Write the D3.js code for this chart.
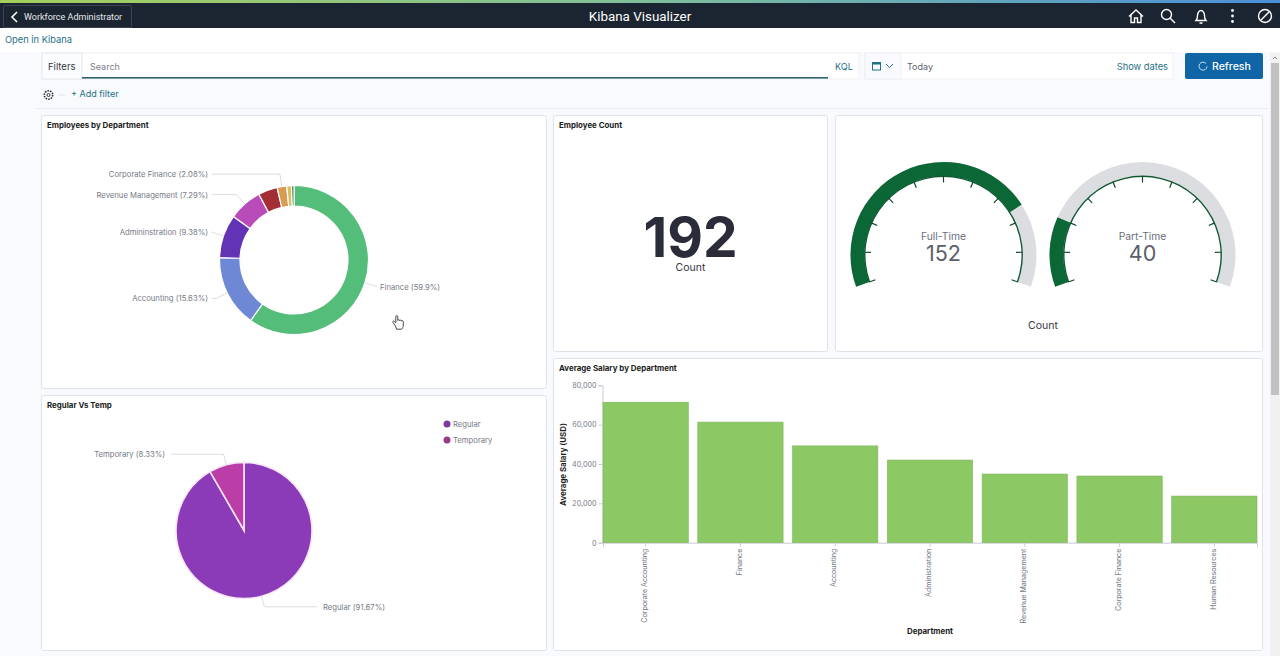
<!DOCTYPE html>
<html>
<head>
<meta charset="utf-8">
<title>Kibana Visualizer</title>
<script src="https://cdn.jsdelivr.net/npm/d3@7"></script>
<style>
  html, body { margin: 0; padding: 0; background: #fff; overflow: hidden; }
  svg { display: block; }
  text { font-family: Inter, "Liberation Sans", sans-serif; }
  .head { font-family: Roboto, "Liberation Sans", sans-serif; }
  .panelTitle { font-size: 7.9px; font-weight: 700; fill: #1a1c21; }
  .lbl { font-size: 7.7px; fill: #757a85; }
  .leader { fill: none; stroke: #d9dde3; stroke-width: 1; }
  .axis path, .axis line { stroke: #c8ccd2; }
  .axis text { font-family: Inter, sans-serif; fill: #757a85; }
</style>
</head>
<body>
<script>
// data
const deptNames = ["Finance", "Accounting", "Admininstration", "Revenue Management", "Corporate Accounting", "Corporate Finance", "Human Resources", "Other"];
const deptCounts = [115, 30, 18, 14, 8, 4, 2, 1];
const deptColors = ["#54bd7a", "#6f88d6", "#6233b5", "#b94bbb", "#a32f35", "#d89b52", "#d9bf5c", "#2f6b4a"];
const deptLabelled = ["Finance", "Accounting", "Admininstration", "Revenue Management", "Corporate Finance"];

const typeNames = ["Regular", "Temporary"];
const typeCounts = [176, 16];
const typeColors = ["#8b3ab8", "#bb3da8"];
const legendColors = ["#7b3a9f", "#9a3c85"];

const gaugeNames = ["Full-Time", "Part-Time"];
const gaugeValues = [152, 40];
const gaugeTicks = [0, 20, 40, 60, 80, 100, 120, 140, 160, 180, 200];

const salaryDepts = ["Corporate Accounting", "Finance", "Accounting", "Administration", "Revenue Management", "Corporate Finance", "Human Resources"];
const salaryValues = [71400, 61300, 49200, 42000, 34900, 33900, 23700];
const salaryTicks = [0, 20000, 40000, 60000, 80000];

const svg = d3.select("body").append("svg").attr("width", 1280).attr("height", 656);

// page chrome
const defs = svg.append("defs");
const grad = defs.append("linearGradient").attr("id", "topStrip");
grad.append("stop").attr("offset", "0%").attr("stop-color", "#a6cf5a");
grad.append("stop").attr("offset", "50%").attr("stop-color", "#7fbf9a");
grad.append("stop").attr("offset", "100%").attr("stop-color", "#4a90d9");

svg.append("rect").attr("width", 1280).attr("height", 656).attr("fill", "#f8fafd");
svg.append("rect").attr("width", 1280).attr("height", 52).attr("fill", "#fff");
svg.append("rect").attr("width", 1280).attr("height", 28).attr("fill", "#1b2431");
svg.append("rect").attr("width", 1280).attr("height", 3).attr("fill", "url(#topStrip)");

svg.append("rect").attr("x", 3.5).attr("y", 5.5).attr("width", 128).attr("height", 22)
  .attr("fill", "none").attr("stroke", "#3a4454").attr("rx", 1);
svg.append("path").attr("d", "M17 12l-5 5l5 5").attr("fill", "none").attr("stroke", "#fff").attr("stroke-width", 1.6);
svg.append("text").attr("class", "head").attr("x", 24).attr("y", 20).attr("font-size", 9).attr("fill", "#e6e8ec")
  .text("Workforce Administrator");
svg.append("text").attr("class", "head").attr("x", 640).attr("y", 20.5).attr("text-anchor", "middle")
  .attr("font-size", 13.4).attr("fill", "#fff").text("Kibana Visualizer");

// header icons
const icons = svg.append("g").attr("fill", "none").attr("stroke", "#fff").attr("stroke-width", 1.4);
icons.append("path").attr("d", "M1129 16.5l7-6.5l7 6.5M1131 15v7.5h3.5v-4.5h3v4.5h3.5v-7.5");
icons.append("circle").attr("cx", 1166.5).attr("cy", 14.5).attr("r", 5);
icons.append("path").attr("d", "M1170 18l5 5");
icons.append("path").attr("d", "M1196 20.5c1.5-1.5 1.5-3 1.5-5c0-2.5 1.5-5 3.5-5s3.5 2.5 3.5 5c0 2 0 3.5 1.5 5zM1199.5 23h3");
[10.5, 16, 21.5].forEach(y => svg.append("circle").attr("cx", 1232.5).attr("cy", y).attr("r", 1.4).attr("fill", "#fff"));
icons.append("circle").attr("cx", 1265).attr("cy", 16).attr("r", 6.5);
icons.append("path").attr("d", "M1261 20l8-8");

svg.append("text").attr("x", 5).attr("y", 43).attr("font-size", 9.3).attr("fill", "#1f7186").text("Open in Kibana");

// filter bar
svg.append("rect").attr("x", 42).attr("y", 53).attr("width", 817).attr("height", 26).attr("fill", "#fff").attr("stroke", "#eef0f4");
svg.append("rect").attr("x", 42).attr("y", 53).attr("width", 40).attr("height", 26).attr("fill", "#fbfcfd").attr("stroke", "#e6e9ef");
svg.append("rect").attr("x", 82).attr("y", 77).attr("width", 746).attr("height", 1.6).attr("fill", "#2d6170");
svg.append("text").attr("x", 48).attr("y", 70).attr("font-size", 9.5).attr("fill", "#343741").text("Filters");
svg.append("text").attr("x", 90).attr("y", 69.5).attr("font-size", 9).attr("fill", "#7b8089").text("Search");
svg.append("text").attr("x", 835).attr("y", 69.5).attr("font-size", 9).attr("fill", "#1f7186").text("KQL");

svg.append("rect").attr("x", 865).attr("y", 53).attr("width", 308).attr("height", 26).attr("fill", "#fff").attr("stroke", "#eef0f4");
svg.append("rect").attr("x", 865).attr("y", 53).attr("width", 36).attr("height", 26).attr("fill", "#f8fafd").attr("stroke", "#eef0f4");
svg.append("rect").attr("x", 872.5).attr("y", 62.5).attr("width", 8).attr("height", 7.5).attr("fill", "none").attr("stroke", "#1f7186");
svg.append("rect").attr("x", 872.5).attr("y", 62.5).attr("width", 8).attr("height", 2).attr("fill", "#1f7186");
svg.append("path").attr("d", "M886 64l3.5 3.5l3.5-3.5").attr("fill", "none").attr("stroke", "#1f7186");
svg.append("text").attr("x", 907).attr("y", 69.5).attr("font-size", 9).attr("fill", "#5f6670").text("Today");
svg.append("text").attr("x", 1168).attr("y", 69.5).attr("text-anchor", "end").attr("font-size", 9.3).attr("fill", "#1f7186").text("Show dates");

svg.append("rect").attr("x", 1185).attr("y", 53).attr("width", 78).attr("height", 26).attr("rx", 2).attr("fill", "#0f65a6");
svg.append("path").attr("d", "M1206 63.5a4 4 0 1 0 1 3").attr("fill", "none").attr("stroke", "#cfe3f2").attr("stroke-width", 1);
svg.append("text").attr("x", 1212).attr("y", 69.5).attr("font-size", 10.5).attr("font-weight", 500).attr("fill", "#fff").text("Refresh");

svg.append("circle").attr("cx", 48.5).attr("cy", 95).attr("r", 4.2).attr("fill", "none").attr("stroke", "#343741").attr("stroke-width", 1.6).attr("stroke-dasharray", "1.6 1");
svg.append("circle").attr("cx", 48.5).attr("cy", 95).attr("r", 1.5).attr("fill", "none").attr("stroke", "#343741");
svg.append("rect").attr("x", 59).attr("y", 94.5).attr("width", 6).attr("height", 1).attr("fill", "#dfe3ea");
svg.append("text").attr("x", 71).attr("y", 97).attr("font-size", 9).attr("fill", "#1f7186").text("+ Add filter");
svg.append("rect").attr("x", 36).attr("y", 108).attr("width", 1232).attr("height", 1).attr("fill", "#e9ecf1");

// scrollbar
svg.append("rect").attr("x", 1270).attr("y", 53).attr("width", 10).attr("height", 603).attr("fill", "#f1f1f1");
svg.append("rect").attr("x", 1271).attr("y", 63).attr("width", 8).attr("height", 332).attr("fill", "#c1c1c1");
svg.append("path").attr("d", "M1273 59l2-2l2 2").attr("fill", "none").attr("stroke", "#8a8a8a");

// panels
function panel(x, y, w, h, title) {
  svg.append("rect").attr("x", x + 0.5).attr("y", y + 0.5).attr("width", w).attr("height", h).attr("rx", 2)
    .attr("fill", "#fff").attr("stroke", "#dfe3ea");
  if (title) svg.append("text").attr("class", "panelTitle").attr("x", x + 6).attr("y", y + 13).text(title);
}
panel(41, 115, 505, 273, "Employees by Department");
panel(553, 115, 274, 236, "Employee Count");
panel(835, 115, 427, 236);
panel(41, 395, 505, 255, "Regular Vs Temp");
panel(553, 358, 709, 292, "Average Salary by Department");

const pct = (v, total) => +(v / total * 100).toFixed(2);

// leader line and label for a slice
function sliceLabel(g, d, arcOuter, elbowR, lineX, textX, text) {
  const elbow = d3.arc().innerRadius(elbowR).outerRadius(elbowR).centroid(d);
  const start = arcOuter.centroid(d);
  const right = (d.startAngle + d.endAngle) / 2 < Math.PI;
  g.append("polyline").attr("class", "leader")
    .attr("points", [start, elbow, [right ? lineX : -lineX, elbow[1]]].map(p => p.join(",")).join(" "));
  g.append("text").attr("class", "lbl")
    .attr("x", right ? textX : -textX).attr("y", elbow[1] + 3)
    .attr("text-anchor", right ? "start" : "end").text(text);
}

// donut
const donut = svg.append("g").attr("transform", "translate(294,260)");
const pieGen = d3.pie().sort(null);
const donutArc = d3.arc().innerRadius(54).outerRadius(74.5);
const donutEdge = d3.arc().innerRadius(74.5).outerRadius(74.5);
const donutData = pieGen(deptCounts);
const donutTotal = d3.sum(deptCounts);
donut.selectAll("path.slice").data(donutData).enter().append("path").attr("class", "slice")
  .attr("d", donutArc)
  .attr("fill", (d, i) => deptColors[i])
  .attr("stroke", "#fff").attr("stroke-width", 1.2);
donutData.forEach((d, i) => {
  if (!deptLabelled.includes(deptNames[i])) return;
  sliceLabel(donut, d, donutEdge, 87, 82, 86, `${deptNames[i]} (${pct(deptCounts[i], donutTotal)}%)`);
});

// pie
const pieG = svg.append("g").attr("transform", "translate(244,530.5)");
const pieArc = d3.arc().innerRadius(0).outerRadius(68);
const pieEdge = d3.arc().innerRadius(68).outerRadius(68);
const pieData = pieGen(typeCounts);
const typeTotal = d3.sum(typeCounts);
pieG.selectAll("path.slice").data(pieData).enter().append("path").attr("class", "slice")
  .attr("d", pieArc)
  .attr("fill", (d, i) => typeColors[i])
  .attr("stroke", "#f7e6f7").attr("stroke-width", 1.6);
pieData.forEach((d, i) => {
  sliceLabel(pieG, d, pieEdge, 79, 73, 79, `${typeNames[i]} (${pct(typeCounts[i], typeTotal)}%)`);
});

// legend
const legend = svg.append("g").selectAll("g").data(typeNames).enter().append("g")
  .attr("transform", (d, i) => `translate(447,${424 + i * 16})`);
legend.append("circle").attr("r", 3.5).attr("fill", (d, i) => legendColors[i]);
legend.append("text").attr("class", "lbl").attr("x", 6).attr("y", 3).text(d => d);

// metric
svg.append("text").attr("x", 690.5).attr("y", 257).attr("text-anchor", "middle")
  .attr("font-size", 55).attr("font-weight", 700).attr("fill", "#2a2c3a").text(d3.sum(gaugeValues));
svg.append("text").attr("x", 690.5).attr("y", 271).attr("text-anchor", "middle")
  .attr("font-size", 10.5).attr("fill", "#343741").text("Count");

// gauges
const gaugeAngle = d3.scaleLinear().domain([0, 200]).range([-110 * Math.PI / 180, 110 * Math.PI / 180]);
const gaugeX = d3.scalePoint().domain(gaugeNames).range([943.5, 1142.5]);
gaugeNames.forEach((name, i) => {
  const g = svg.append("g").attr("transform", `translate(${gaugeX(name)},255)`);
  const band = d3.arc().innerRadius(79).outerRadius(93);
  g.append("path").attr("fill", "#dcdde0")
    .attr("d", band({ startAngle: gaugeAngle(0), endAngle: gaugeAngle(200) }));
  g.append("path").attr("fill", "#0b6836")
    .attr("d", band({ startAngle: gaugeAngle(0), endAngle: gaugeAngle(gaugeValues[i]) }));
  g.append("path").attr("fill", "#0f5a33")
    .attr("d", d3.arc().innerRadius(78).outerRadius(79.4)({ startAngle: gaugeAngle(0), endAngle: gaugeAngle(200) }));
  g.selectAll("line").data(gaugeTicks).enter().append("line")
    .attr("x1", d => Math.sin(gaugeAngle(d)) * 79)
    .attr("y1", d => -Math.cos(gaugeAngle(d)) * 79)
    .attr("x2", d => Math.sin(gaugeAngle(d)) * 72.5)
    .attr("y2", d => -Math.cos(gaugeAngle(d)) * 72.5)
    .attr("stroke", "#14452c").attr("stroke-width", 1.2);
  g.append("text").attr("y", -15).attr("text-anchor", "middle").attr("font-size", 10.3).attr("fill", "#6a6f7a").text(name);
  g.append("text").attr("y", 6).attr("text-anchor", "middle").attr("font-size", 21.5).attr("fill", "#5a5f6b").text(gaugeValues[i]);
});
svg.append("text").attr("x", 1043).attr("y", 329).attr("text-anchor", "middle")
  .attr("font-size", 10.5).attr("fill", "#343741").text("Count");

// bars
const x = d3.scaleBand().domain(salaryDepts).range([603, 1257]).paddingInner(0.1);
const y = d3.scaleLinear().domain([0, 80000]).range([542.7, 385.3]);

const yAxis = svg.append("g").attr("class", "axis").attr("transform", "translate(602.5,0)")
  .call(d3.axisLeft(y).tickValues(salaryTicks).tickSize(4).tickPadding(2).tickFormat(d3.format(",")));
yAxis.selectAll("text").style("font-size", "7.2px");
const xAxis = svg.append("g").attr("class", "axis").attr("transform", "translate(0,542.7)")
  .call(d3.axisBottom(x).tickSize(4).tickPadding(2));
xAxis.selectAll("text")
  .attr("transform", "rotate(-90)")
  .attr("text-anchor", "end")
  .attr("dx", "-6").attr("dy", "-0.1em")
  .attr("x", 0).attr("y", 0)
  .style("font-size", "7.1px")
  .style("dominant-baseline", "middle");

svg.selectAll("rect.bar").data(salaryValues).enter().append("rect").attr("class", "bar")
  .attr("x", (d, i) => x(salaryDepts[i]))
  .attr("y", d => y(d))
  .attr("width", x.bandwidth())
  .attr("height", d => y(0) - y(d))
  .attr("fill", "#8cc864")
  .attr("stroke", "#7fb35c").attr("stroke-width", 0.6);

svg.append("text").attr("class", "panelTitle").attr("text-anchor", "middle")
  .attr("transform", "translate(565.5,464.5) rotate(-90)").text("Average Salary (USD)");
svg.append("text").attr("class", "panelTitle").attr("x", 930).attr("y", 634).attr("text-anchor", "middle").text("Department");

// mouse pointer
svg.append("path")
  .attr("d", "M395.5 326l-2.5-3.5c-.8-1.2.8-2 1.6-1l1.2 1.4v-6.2c0-1.5 2-1.5 2 0v3.8c.3-1.2 2-1 2 .2c.4-1 1.8-.8 1.9.4c.5-.7 1.6-.4 1.6.7v3.2c0 2.2-.8 3.2-1.6 4.2h-5.2z")
  .attr("fill", "#fff").attr("stroke", "#333").attr("stroke-width", 0.9);
</script>
</body>
</html>
